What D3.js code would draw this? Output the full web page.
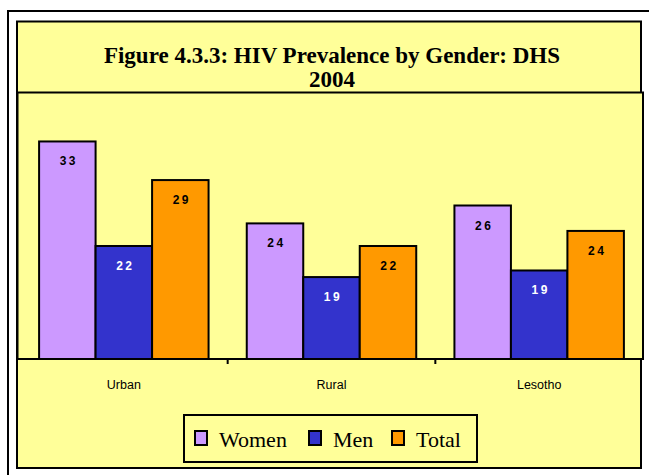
<!DOCTYPE html>
<html>
<head>
<meta charset="utf-8">
<script src="https://cdn.jsdelivr.net/npm/d3@7/dist/d3.min.js"></script>
<style>
  html, body { margin: 0; padding: 0; background: #fff; }
  svg { display: block; }
</style>
</head>
<body>
<script>
// HIV prevalence (%) by gender, DHS 2004
const categories = ["Urban", "Rural", "Lesotho"];
const seriesNames = ["Women", "Men", "Total"];
const women = [33.1, 24.4, 26.3];
const men = [22.0, 18.7, 19.4];
const total = [29.0, 22.0, 23.6];
const titleLines = ["Figure 4.3.3: HIV Prevalence by Gender: DHS", "2004"];

const colors = { Women: "#CC99FF", Men: "#3333CC", Total: "#FF9900" };
const labelColors = { Women: "#000", Men: "#fff", Total: "#000" };
const bg = "#FFFF99";

const W = 649, H = 475;
const svg = d3.select("body").append("svg").attr("width", W).attr("height", H);

// outer frame (runs off the right and bottom edges)
svg.append("rect").attr("x", 8).attr("y", 11).attr("width", 700).attr("height", 520)
  .attr("fill", "#fff").attr("stroke", "#000").attr("stroke-width", 2);

// chart area
svg.append("rect").attr("x", 17).attr("y", 21.5).attr("width", 624).attr("height", 446.5)
  .attr("fill", bg).attr("stroke", "#000").attr("stroke-width", 2);

// title
const title = svg.append("text")
  .attr("text-anchor", "middle")
  .attr("font-family", "'Liberation Serif', 'Times New Roman', serif")
  .attr("font-weight", "bold").attr("font-size", 23).attr("fill", "#000");
titleLines.forEach((t, i) => {
  title.append("tspan").attr("x", 332).attr("y", 63 + i * 24).text(t);
});

// plot area
const plot = { left: 20, right: 643, top: 92.5, bottom: 359 };
svg.append("rect").attr("x", 17.5).attr("y", plot.top)
  .attr("width", plot.right - 17.5).attr("height", plot.bottom - plot.top)
  .attr("fill", bg).attr("stroke", "#000").attr("stroke-width", 2);

const x0 = d3.scaleBand().domain(categories).range([plot.left, plot.right]).paddingInner(0).paddingOuter(0);
const x1 = d3.scaleBand().domain(seriesNames).range([0, x0.bandwidth()]).paddingOuter(0.338).paddingInner(0);
const y = d3.scaleLinear().domain([10, 38.3]).range([plot.bottom, plot.top]);

const table = categories.map((c, i) => ({
  category: c,
  values: [
    { key: "Women", value: women[i] },
    { key: "Men", value: men[i] },
    { key: "Total", value: total[i] }
  ]
}));

const groups = svg.append("g").selectAll("g").data(table).join("g")
  .attr("transform", d => `translate(${x0(d.category)},0)`);

groups.selectAll("rect").data(d => d.values).join("rect")
  .attr("x", d => x1(d.key))
  .attr("y", d => y(d.value))
  .attr("width", x1.bandwidth())
  .attr("height", d => y.range()[0] - y(d.value))
  .attr("fill", d => colors[d.key])
  .attr("stroke", "#000").attr("stroke-width", 2);

// value labels, rounded to whole percent
const fmt = d3.format(".0f");
groups.selectAll("text").data(d => d.values).join("text")
  .attr("x", d => x1(d.key) + x1.bandwidth() / 2 + 1.5)
  .attr("y", d => y(d.value) + 24)
  .attr("text-anchor", "middle")
  .attr("font-family", "Arial, 'Liberation Sans', sans-serif")
  .attr("font-weight", "bold").attr("font-size", 12)
  .attr("letter-spacing", 2.5)
  .attr("fill", d => labelColors[d.key])
  .text(d => fmt(d.value));

// category axis
const xAxis = d3.axisBottom(x0).tickSize(0).tickPadding(0);
const ax = svg.append("g").attr("transform", `translate(0,${plot.bottom})`).call(xAxis);
ax.select(".domain").remove();
ax.selectAll("text")
  .attr("dy", 0).attr("y", 30)
  .attr("font-family", "Arial, 'Liberation Sans', sans-serif")
  .attr("font-size", 12.5).attr("fill", "#000");

svg.append("line").attr("x1", 17.5).attr("x2", plot.right)
  .attr("y1", plot.bottom).attr("y2", plot.bottom)
  .attr("stroke", "#000").attr("stroke-width", 2);

// group dividers
svg.append("g").selectAll("line").data(categories.slice(1)).join("line")
  .attr("x1", d => x0(d)).attr("x2", d => x0(d))
  .attr("y1", plot.bottom).attr("y2", plot.bottom + 5)
  .attr("stroke", "#000").attr("stroke-width", 2);

// legend
const legend = svg.append("g");
legend.append("rect").attr("x", 184).attr("y", 415).attr("width", 293).attr("height", 47)
  .attr("fill", bg).attr("stroke", "#000").attr("stroke-width", 2);
const legendX = [195, 309, 392];
const items = legend.selectAll("g").data(seriesNames).join("g")
  .attr("transform", (d, i) => `translate(${legendX[i]},431)`);
items.append("rect").attr("width", 12).attr("height", 14)
  .attr("fill", d => colors[d]).attr("stroke", "#000").attr("stroke-width", 2);
items.append("text").attr("x", 24).attr("y", 16)
  .attr("font-family", "'Liberation Serif', 'Times New Roman', serif")
  .attr("font-size", 22).attr("fill", "#000")
  .text(d => d);
</script>
</body>
</html>
